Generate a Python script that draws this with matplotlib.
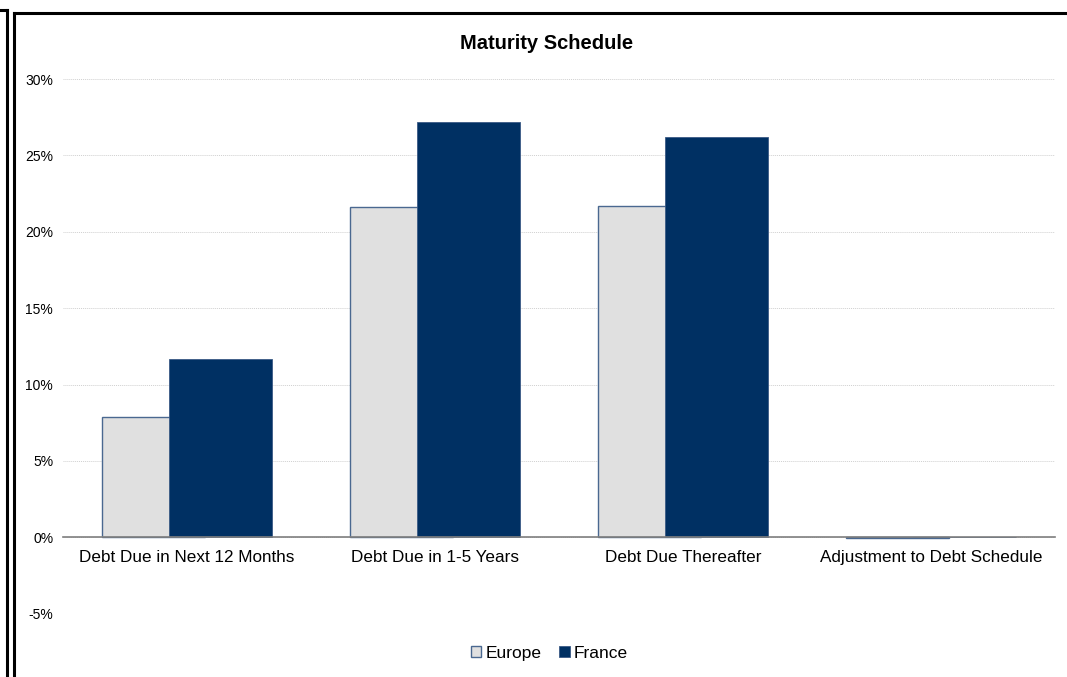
import numpy as np
import matplotlib.pyplot as plt
from matplotlib.lines import Line2D
from matplotlib.ticker import FuncFormatter

# Data
categories = ["Debt Due in Next 12 Months", "Debt Due in 1-5 Years",
              "Debt Due Thereafter", "Adjustment to Debt Schedule"]
europe = [7.85, 21.62, 21.68, -0.08]
france = [11.65, 27.2, 26.2, 0.04]
yticks = [-5, 0, 5, 10, 15, 20, 25, 30]

plt.rcParams['font.family'] = ['Liberation Sans', 'DejaVu Sans']

fig = plt.figure(figsize=(10.67, 6.77), dpi=100)
ax = fig.add_axes([0.059, 0.0936, 0.9298, 0.7897])

x = np.arange(len(categories))
width = 0.415
shift = 0.135
ax.bar(x - shift, europe, width, color='#E0E0E0', edgecolor='#4A6890', linewidth=1.0,
       label='Europe', zorder=2)
ax.bar(x + shift, france, width, color='#003063', edgecolor='#3A5A85', linewidth=0.6,
       label='France', zorder=3)

ax.set_xlim(-0.5, len(categories) - 0.5)
ax.set_ylim(-5, 30)
ax.set_yticks(yticks)
ax.yaxis.set_major_formatter(FuncFormatter(lambda v, p: "%d%%" % v))
ax.grid(axis='y', color='#D0D0D0', linestyle=(0, (1, 1)), linewidth=0.7, zorder=0)
ax.set_axisbelow(True)

for s in ['top', 'right', 'left']:
    ax.spines[s].set_visible(False)
ax.spines['bottom'].set_position(('data', 0))
ax.spines['bottom'].set_color('#7F7F7F')
ax.spines['bottom'].set_linewidth(1.2)
ax.spines['bottom'].set_zorder(4)

ax.set_xticks(x)
ax.set_xticklabels(categories, fontsize=12.3)
ax.tick_params(axis='x', length=0, pad=9.5)
ax.tick_params(axis='y', length=0, pad=7, labelsize=10)

fig.text(0.5127, 0.936, "Maturity Schedule", ha='center', va='center',
         fontsize=14.5, fontweight='bold')

fig.legend(loc='center', bbox_to_anchor=(0.515, 0.035), ncol=2, frameon=False,
           fontsize=12.5, handlelength=0.6, handleheight=0.6, handletextpad=0.25,
           columnspacing=1.0)

# frame lines around the chart
W, H = 1067, 677
def fl(xs, ys, lw=2.2):
    fig.add_artist(Line2D([v / W for v in xs], [1 - v / H for v in ys],
                          color='black', linewidth=lw, transform=fig.transFigure))
fl([0, 7], [10, 10])
fl([7, 7], [10, 677])
fl([13.5, 13.5], [13, 677])
fl([13.5, 1067], [13, 13])

fig.savefig('out.png', dpi=100)
